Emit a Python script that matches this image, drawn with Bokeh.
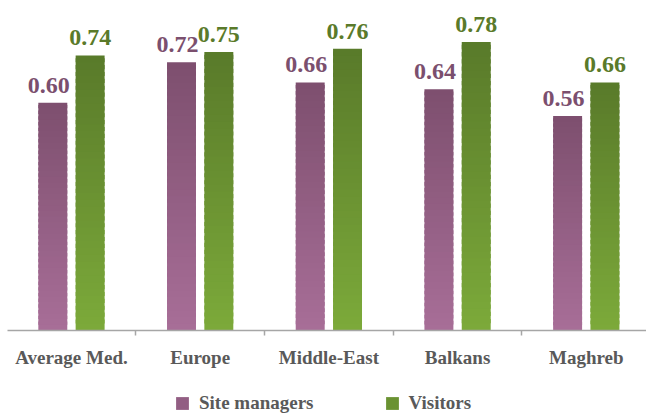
import numpy as np
from bokeh.plotting import figure
from bokeh.layouts import column
from bokeh.models import ColumnDataSource, FixedTicker, Legend, LegendItem, Range1d, LabelSet
from bokeh.embed import file_html
from bokeh.resources import INLINE

categories = ["Average Med.", "Europe", "Middle-East", "Balkans", "Maghreb"]
site_managers = [0.60, 0.72, 0.66, 0.64, 0.56]
visitors = [0.74, 0.75, 0.76, 0.78, 0.66]
series_names = ["Site managers", "Visitors"]

Y0, Y1 = -0.076, 0.903
FONT = "Liberation Serif"

p = figure(width=646, height=370, x_range=Range1d(-0.497, 4.468), y_range=Range1d(Y0, Y1),
           output_backend="svg", toolbar_location=None, y_axis_location=None,
           min_border_left=7, min_border_right=0, min_border_top=0, min_border_bottom=40)
p.outline_line_color = None
p.xgrid.visible = False
p.ygrid.visible = False
p.background_fill_color = "white"


def hx(h):
    h = h.lstrip("#")
    return [int(h[i:i + 2], 16) for i in (0, 2, 4)]


def mix(a, b, t):
    a, b = hx(a), hx(b)
    return "#%02x%02x%02x" % tuple(int(round(a[i] + (b[i] - a[i]) * t)) for i in range(3))


def grad_source(xs, vals, bot_col, top_col, n=40):
    # vertical gradient: thin slices of each bar, each overlapping the next one a little
    x, b, t, c = [], [], [], []
    for k in range(n):
        for xi, v in zip(xs, vals):
            x.append(xi)
            b.append(Y0 + (v - Y0) * k / n)
            t.append(Y0 + (v - Y0) * min(k + 1.6, n) / n)
            c.append(mix(bot_col, top_col, (k + 0.5) / n))
    return ColumnDataSource(dict(x=x, bottom=b, top=t, color=c))


idx = np.arange(len(categories))
OFF, W = 0.145, 0.225
series = [
    (site_managers, idx - OFF, "#a86e98", "#7d4f6e", "#7b4f6e", -4),
    (visitors, idx + OFF, "#7caa3a", "#597a2a", "#5a7a2a", 0),
]

# legend strip below the chart
p2 = figure(width=646, height=45, x_range=Range1d(0, 1), y_range=Range1d(0, 1),
            output_backend="svg", toolbar_location=None, x_axis_location=None,
            y_axis_location=None, min_border_left=0, min_border_right=0,
            min_border_top=0, min_border_bottom=0)
p2.outline_line_color = None
p2.xgrid.visible = False
p2.ygrid.visible = False

legend_items = []
for (vals, xs, bot, top, lab_col, xo), name in zip(series, series_names):
    src = grad_source(list(xs), vals, bot, top)
    p.vbar(x="x", bottom="bottom", top="top", width=W, source=src,
           fill_color="color", line_color=None)
    lsrc = ColumnDataSource(dict(x=list(xs), y=vals, t=[f"{v:.2f}" for v in vals]))
    p.add_layout(LabelSet(x="x", y="y", text="t", source=lsrc,
                          text_font=FONT, text_font_style="bold", text_font_size="24px",
                          text_color=lab_col, text_align="center", text_baseline="alphabetic",
                          y_offset=10, x_offset=xo))
    # zero-height proxy bar, only used for the legend swatch
    leg_r = p2.vbar(x=[0], bottom=[0], top=[0], width=0.01,
                    fill_color=mix(bot, top, 0.5), line_color=None)
    legend_items.append(LegendItem(label=name, renderers=[leg_r]))

ax = p.xaxis[0]
ax.ticker = FixedTicker(ticks=list(range(len(categories))), minor_ticks=[0.5, 1.5, 2.5, 3.5])
ax.major_label_overrides = {i: c for i, c in enumerate(categories)}
ax.major_tick_line_color = None
ax.major_tick_out = 0
ax.major_tick_in = 0
ax.minor_tick_line_color = "#a6a6a6"
ax.minor_tick_line_width = 1.5
ax.minor_tick_out = 5
ax.minor_tick_in = 0
ax.axis_line_color = "#a6a6a6"
ax.axis_line_width = 1.5
ax.major_label_text_font = FONT
ax.major_label_text_font_style = "bold"
ax.major_label_text_font_size = "19px"
ax.major_label_text_color = "#595959"
ax.major_label_standoff = 11

legend = Legend(items=legend_items, orientation="horizontal", location=(167, 1),
                glyph_width=16, glyph_height=16, label_height=16, label_standoff=9,
                spacing=70, padding=0, margin=0, border_line_color=None,
                background_fill_alpha=0,
                label_text_font=FONT, label_text_font_style="bold",
                label_text_font_size="19px", label_text_color="#595959")
p2.add_layout(legend)

open("out.html", "w").write(file_html(column(p, p2, spacing=0), INLINE))
